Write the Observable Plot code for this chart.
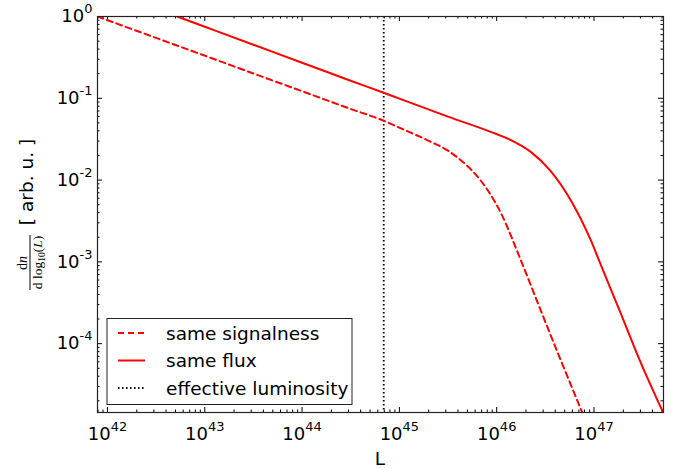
<!DOCTYPE html>
<html>
<head>
<meta charset="utf-8">
<script src="https://cdn.jsdelivr.net/npm/d3@7"></script>
<script src="https://cdn.jsdelivr.net/npm/@observablehq/plot@0.6"></script>
<style>
  html, body { margin: 0; padding: 0; background: white; }
</style>
</head>
<body>
<div id="chart"></div>
<script>
// ---- data ----
const signalnessL = [7.9e41, 3.16e42, 1e43, 3.16e43, 1e44, 3.16e44, 6.9e44, 1e45, 2.0e45, 3.16e45, 4.3e45, 6.8e45, 1.1e46, 1.77e46, 2.83e46, 4.55e46, 7.6e46];
const signalnessN = [1.0, 0.547, 0.332, 0.201, 0.122, 0.0741, 0.0531, 0.0437, 0.0302, 0.0229, 0.0174, 0.0100, 0.0040, 0.00105, 2.57e-4, 6.3e-5, 1.43e-5];
const fluxL = [5.2e42, 1e43, 3.16e43, 1e44, 3.16e44, 6.9e44, 1e45, 3.16e45, 8.67e45, 1.39e46, 2.24e46, 3.59e46, 5.77e46, 9.27e46, 1.17e47, 1.87e47, 3.0e47, 5.18e47];
const fluxN = [1.0, 0.75, 0.452, 0.272, 0.164, 0.117, 0.0991, 0.0597, 0.0389, 0.0309, 0.0221, 0.0129, 0.00568, 0.00184, 9.3e-4, 2.4e-4, 6.0e-5, 1.41e-5];
const effectiveL = [6.9e44];
const xTickExp = [42, 43, 44, 45, 46, 47];
const yTickExp = [0, -1, -2, -3, -4];
const legendLabels = ["same signalness", "same flux", "effective luminosity"];

// ---- derived tables ----
const signalness = signalnessL.map((L, i) => ({L, n: signalnessN[i]}));
const flux = fluxL.map((L, i) => ({L, n: fluxN[i]}));
const xDomain = [7.9e41, 5.18e47];
const yDomain = [1.44e-5, 1];
const xMajor = xTickExp.map(e => Math.pow(10, e));
const yMajor = yTickExp.map(e => Math.pow(10, e));
const minor = (lo, hi) => {
  const out = [];
  for (let e = Math.floor(Math.log10(lo)); e <= Math.ceil(Math.log10(hi)); e++)
    for (let k = 2; k <= 9; k++) { const v = k * Math.pow(10, e); if (v >= lo && v <= hi) out.push(v); }
  return out;
};
const xMinor = minor(...xDomain);
const yMinor = minor(...yDomain);

const W = 686, H = 469, mL = 97, mR = 23, mT = 16, mB = 57;
const iw = W - mL - mR, ih = H - mT - mB;
const major = 5, minr = 2.5;
const red = "#ff0000";
const dashed = "6,4", dotted = "1.5,2.5";

const chart = Plot.plot({
  width: W, height: H,
  marginLeft: mL, marginRight: mR, marginTop: mT, marginBottom: mB,
  style: {fontFamily: "DejaVu Sans", background: "white", color: "black"},
  x: {type: "log", domain: xDomain, axis: null},
  y: {type: "log", domain: yDomain, axis: null},
  marks: [
    // ticks, inward on all four sides
    Plot.ruleX(xMajor, {x: d => d, insetTop: ih - major, stroke: "black", strokeWidth: 1}),
    Plot.ruleX(xMajor, {x: d => d, insetBottom: ih - major, stroke: "black", strokeWidth: 1}),
    Plot.ruleX(xMinor, {x: d => d, insetTop: ih - minr, stroke: "black", strokeWidth: 1}),
    Plot.ruleX(xMinor, {x: d => d, insetBottom: ih - minr, stroke: "black", strokeWidth: 1}),
    Plot.ruleY(yMajor, {y: d => d, insetRight: iw - major, stroke: "black", strokeWidth: 1}),
    Plot.ruleY(yMajor, {y: d => d, insetLeft: iw - major, stroke: "black", strokeWidth: 1}),
    Plot.ruleY(yMinor, {y: d => d, insetRight: iw - minr, stroke: "black", strokeWidth: 1}),
    Plot.ruleY(yMinor, {y: d => d, insetLeft: iw - minr, stroke: "black", strokeWidth: 1}),
    // effective luminosity
    Plot.ruleX(effectiveL, {x: d => d, stroke: "black", strokeWidth: 1.8, strokeDasharray: dotted}),
    // curves
    Plot.line(signalness, {x: "L", y: "n", stroke: red, strokeWidth: 2, strokeDasharray: dashed, curve: "monotone-x", clip: true}),
    Plot.line(flux, {x: "L", y: "n", stroke: red, strokeWidth: 2, curve: "monotone-x", clip: true}),
    Plot.frame({stroke: "#222", strokeWidth: 1.2}),
    Plot.axisX({ticks: xMajor, tickSize: 0, tickPadding: 15, fontSize: 18, label: null, anchor: "bottom",
      tickFormat: d => "10^" + Math.round(Math.log10(d))}),
    Plot.axisY({ticks: yMajor, tickSize: 0, tickPadding: 5, fontSize: 18, label: null, anchor: "left",
      tickFormat: d => "10^" + Math.round(Math.log10(d))})
  ]
});

document.getElementById("chart").appendChild(chart);
const svg = d3.select(chart);

// superscripts on tick labels
svg.selectAll('g[aria-label="x-axis tick label"] text, g[aria-label="y-axis tick label"] text').each(function() {
  const t = d3.select(this);
  const [base, exp] = t.text().split("^");
  t.text(base);
  t.append("tspan").attr("font-size", 13).attr("dy", -9).text(exp);
});

// x label
svg.append("text").attr("x", mL + iw / 2).attr("y", 465).attr("text-anchor", "middle")
  .attr("font-family", "DejaVu Sans").attr("font-size", 18.5).attr("fill", "black").text("L");

// y label: fraction + [ arb. u. ]
const yl = svg.append("g").attr("fill", "black");
yl.append("text").attr("transform", "translate(33,182) rotate(-90)").attr("text-anchor", "middle")
  .attr("font-family", "DejaVu Sans").attr("font-size", 18.5).text("[ arb. u. ]");
const num = yl.append("text").attr("transform", "translate(27,263) rotate(-90)").attr("text-anchor", "middle")
  .attr("font-family", "Liberation Serif").attr("font-size", 14);
num.append("tspan").text("d");
num.append("tspan").attr("font-style", "italic").text("n");
yl.append("line").attr("x1", 30).attr("x2", 30).attr("y1", 235).attr("y2", 290).attr("stroke", "black").attr("stroke-width", 1);
const den = yl.append("text").attr("transform", "translate(42,262.5) rotate(-90)").attr("text-anchor", "middle")
  .attr("font-family", "Liberation Serif").attr("font-size", 13.5);
den.append("tspan").text("d log");
den.append("tspan").attr("font-size", 9.5).attr("dy", 3).text("10");
den.append("tspan").attr("dy", -3).text("(");
den.append("tspan").attr("font-style", "italic").text("L");
den.append("tspan").text(")");

// legend
const lg = svg.append("g");
lg.append("rect").attr("x", 107).attr("y", 318.5).attr("width", 245).attr("height", 86)
  .attr("fill", "white").attr("stroke", "#222").attr("stroke-width", 1);
const styles = [
  {stroke: red, width: 2, dash: dashed},
  {stroke: red, width: 2, dash: null},
  {stroke: "black", width: 1.8, dash: dotted}
];
legendLabels.forEach((label, i) => {
  const y = 333 + i * 27.5;
  const s = styles[i];
  const l = lg.append("line").attr("x1", 118).attr("x2", 145).attr("y1", y).attr("y2", y)
    .attr("stroke", s.stroke).attr("stroke-width", s.width);
  if (s.dash) l.attr("stroke-dasharray", s.dash);
  lg.append("text").attr("x", 166).attr("y", y + 6.5).attr("text-anchor", "start")
    .attr("font-family", "DejaVu Sans").attr("font-size", 18.5).attr("fill", "black").text(label);
});
</script>
</body>
</html>
